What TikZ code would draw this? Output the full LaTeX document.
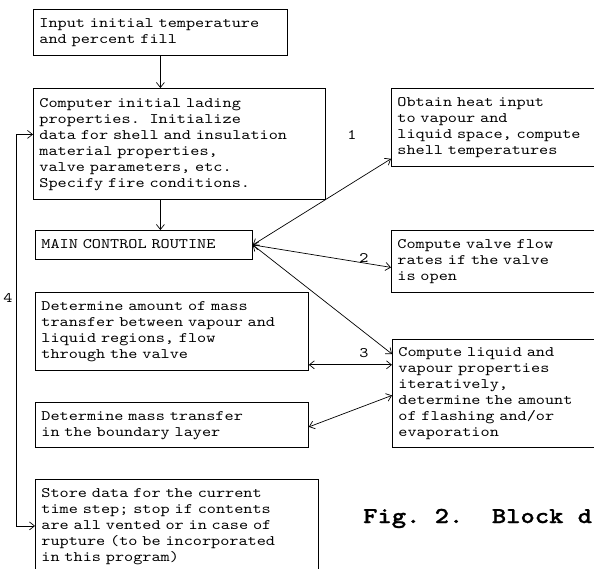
\documentclass[tikz,border=0pt]{standalone}
\usepackage{fontspec}
\newfontfamily\courfont{lmmono10-regular.otf}[FakeStretch=1.2, WordSpace={1,0,0}]
\newfontfamily\courbold{lmmonolt10-bold.otf}[FakeStretch=1.2, FakeBold=1.2, WordSpace={1,0,0}]
\usetikzlibrary{arrows.meta,calc}
\frenchspacing
\begin{document}
\begin{tikzpicture}[x=1pt,y=-1pt,
  txt/.style={font=\courfont\fontsize{14.5}{16}\selectfont},
  box/.style={txt, draw, line width=0.8pt, anchor=north west, inner xsep=6pt, inner ysep=0pt,
    align=left, execute at begin node=\strut, execute at end node=\strut},
  arrs/.style={{Straight Barb[length=5pt,width=8pt]}-{Straight Barb[length=5pt,width=8pt]}, line width=0.7pt},
  arr/.style={-{Straight Barb[length=5pt,width=8pt]}, line width=0.7pt},
  lbl/.style={txt, inner sep=0pt}
]
\fill[white] (0,0) rectangle (594,568);
\useasboundingbox (0,0) rectangle (594,568);

\node[box, text width=242pt, minimum height=46pt] (A) at (33,9)
  {Input initial temperature\\and percent fill};
\node[box, text width=280pt, minimum height=111pt] (B) at (33,88)
  {Computer initial lading\\properties.\ \ Initialize\\data for shell and insulation\\material properties,\\valve parameters, etc.\\Specify fire conditions.};
\node[box, text width=205pt, minimum height=29pt] (M) at (35,230)
  {MAIN CONTROL ROUTINE};
\node[box, text width=197pt, minimum height=78pt] (O) at (391,88)
  {Obtain heat input\\to vapour and\\liquid space, compute\\shell temperatures};
\node[box, text width=197pt, minimum height=62pt] (V) at (391,230)
  {Compute valve flow\\rates if the valve\\is open};
\node[box, text width=196pt, minimum height=108pt] (Lq) at (392,339)
  {Compute liquid and\\vapour properties\\iteratively,\\determine the amount\\of flashing and/or\\evaporation};
\node[box, text width=261pt, minimum height=78pt] (DA) at (35,292)
  {Determine amount of mass\\transfer between vapour and\\liquid regions, flow\\through the valve};
\node[box, text width=261pt, minimum height=45pt] (DM) at (35,402)
  {Determine mass transfer\\in the boundary layer};
\node[box, text width=271pt, minimum height=93pt] (S) at (35,479)
  {Store data for the current\\time step; stop if contents\\are all vented or in case of\\rupture (to be incorporated\\in this program)};

% vertical flow
\draw[arr] (A.south) -- (A.south |- B.north);
\draw[arr] (A.south |- B.south) -- (A.south |- M.north);

% loop 4
\coordinate (bin) at ($(B.west)+(0,-9.5)$);
\draw[arrs] (S.west) -- ++(-19,0) |- (bin);
\node[lbl] (l4) at (8,298) {4};

% main control connections
\coordinate (oin) at ($(O.south west)+(0,-8)$);
\coordinate (vin) at ($(V.west)+(0,6)$);
\coordinate (qin) at ($(Lq.north west)+(0,15)$);
\draw[arrs] (M.east) -- (oin);
\draw[arrs] (M.east) -- (vin);
\draw[arrs] (M.east) -- (qin);
\node[lbl] (l1) at (352,135) {1};
\node[lbl] (l2) at (364,258) {2};
\node[lbl] (l3) at (364,353) {3};

% liquid connections
\coordinate (dao) at ($(DA.south east)+(0,-6)$);
\draw[arrs] (dao) -- (dao -| Lq.west);
\coordinate (dmo) at ($(DM.east)+(0,2)$);
\coordinate (qin2) at ($(Lq.west)+(0,2)$);
\draw[arrs] (dmo) -- (qin2);

% caption
\node[font=\courbold\fontsize{22.7}{26}\selectfont, anchor=base west, inner sep=0pt] (cap) at (363,523)
  {Fig.\ 2.\ \ Block d};
\end{tikzpicture}
\end{document}
